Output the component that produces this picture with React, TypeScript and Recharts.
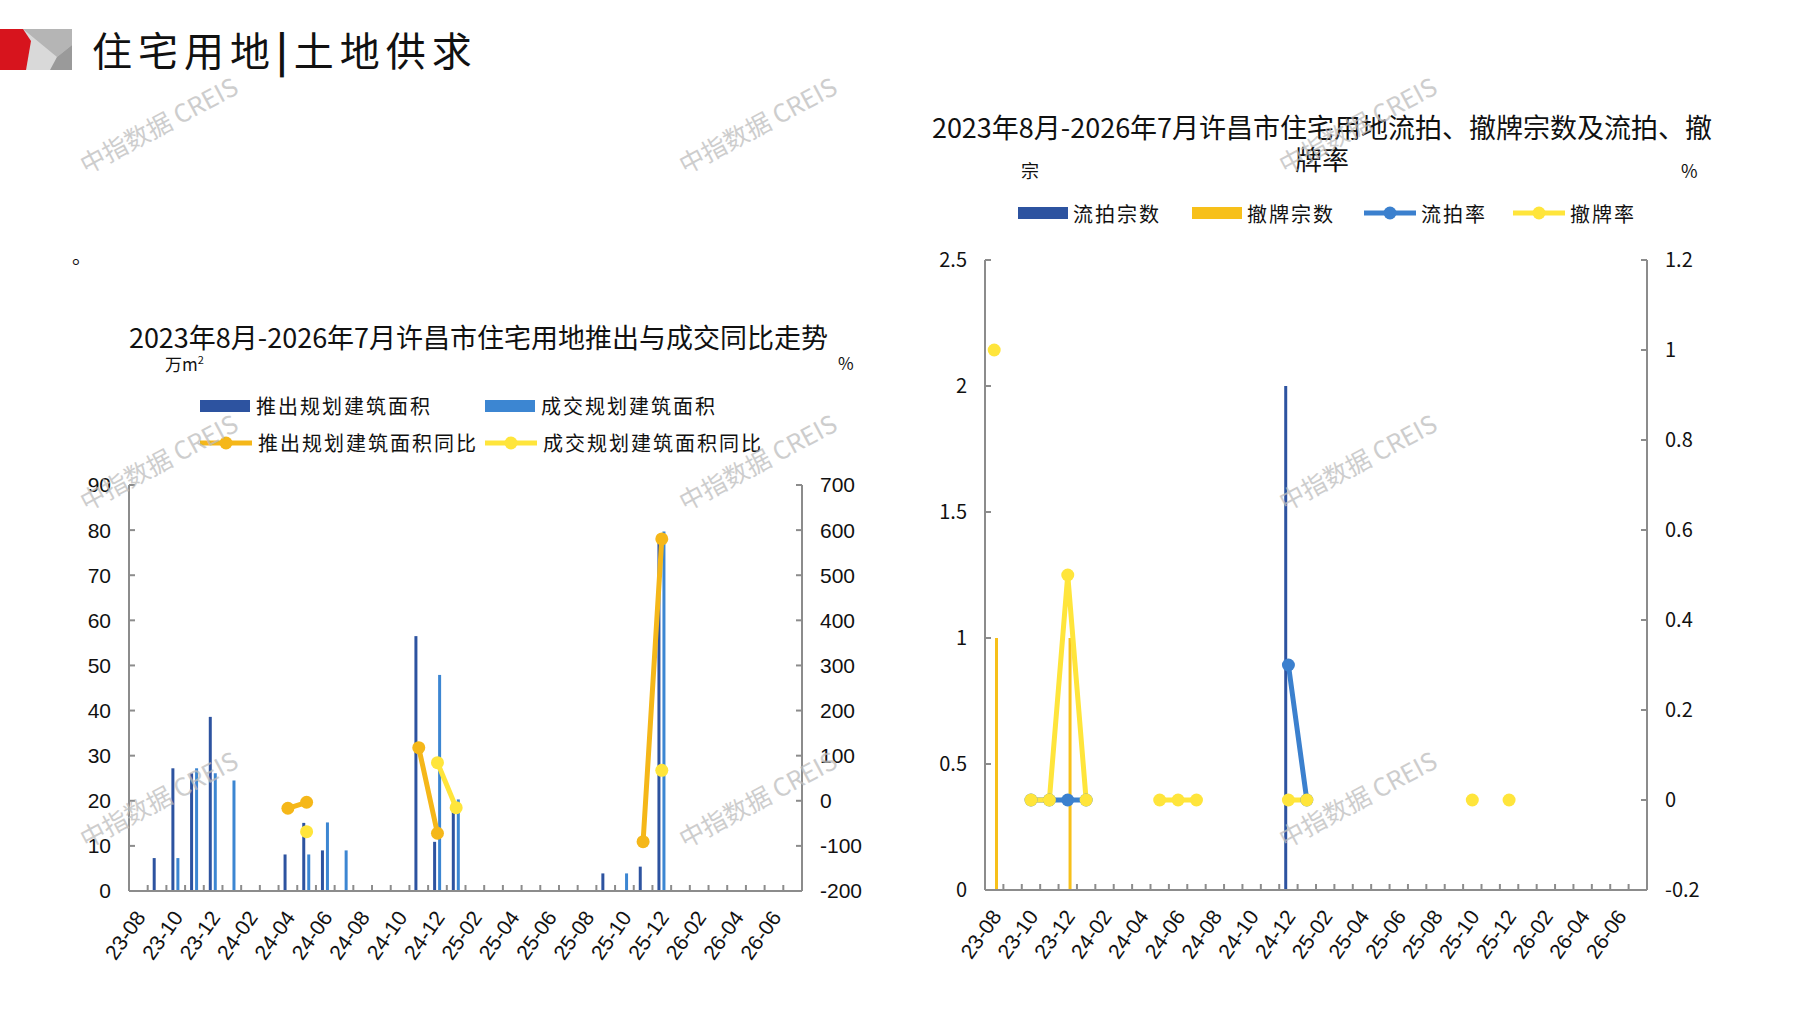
import React from "react";
import { ComposedChart, Bar, Line, XAxis, YAxis, Legend } from "recharts";

// 2023-08 .. 2026-07
const months = [
  "23-08", "23-09", "23-10", "23-11", "23-12", "24-01", "24-02", "24-03", "24-04",
  "24-05", "24-06", "24-07", "24-08", "24-09", "24-10", "24-11", "24-12", "25-01",
  "25-02", "25-03", "25-04", "25-05", "25-06", "25-07", "25-08", "25-09", "25-10",
  "25-11", "25-12", "26-01", "26-02", "26-03", "26-04", "26-05", "26-06", "26-07",
];

// left chart: 万m² and %
const supplyArea = [
  null, 7.3, 27.2, 26.1, 38.6, null, null, null, 8.1, 15.1, 9.0, null, null, null, null, 56.5, 10.9, 19.5,
  null, null, null, null, null, null, null, 3.9, null, 5.4, 78, null, null, null, null, null, null, null,
];
const dealArea = [
  null, null, 7.3, 27.2, 26.1, 24.5, null, null, null, 8.1, 15.2, 9.0, null, null, null, null, 47.9, 20.3,
  null, null, null, null, null, null, null, null, 3.9, null, 79.7, null, null, null, null, null, null, null,
];
const supplyYoY = [
  null, null, null, null, null, null, null, null, -16.6, -3.3, null, null, null, null, null, 117.7, -72, null,
  null, null, null, null, null, null, null, null, null, -90.7, 580.5, null, null, null, null, null, null, null,
];
const dealYoY = [
  null, null, null, null, null, null, null, null, null, -68.5, null, null, null, null, null, null, 84.5, -15.3,
  null, null, null, null, null, null, null, null, null, null, 67.6, null, null, null, null, null, null, null,
];

// right chart: 宗 and %
const failCount = [
  null, null, null, null, null, null, null, null, null, null, null, null, null, null, null, null, 2, null,
  null, null, null, null, null, null, null, null, null, null, null, null, null, null, null, null, null, null,
];
const withdrawCount = [
  1, null, null, null, 1, null, null, null, null, null, null, null, null, null, null, null, null, null,
  null, null, null, null, null, null, null, null, null, null, null, null, null, null, null, null, null, null,
];
const failRate = [
  null, null, 0, 0, 0, 0, null, null, null, null, null, null, null, null, null, null, 0.3, 0,
  null, null, null, null, null, null, null, null, null, null, null, null, null, null, null, null, null, null,
];
const withdrawRate = [
  1, null, 0, 0, 0.5, 0, null, null, null, 0, 0, 0, null, null, null, null, 0, 0,
  null, null, null, null, null, null, null, null, 0, null, 0, null, null, null, null, null, null, null,
];

const leftAreaTicks = [0, 10, 20, 30, 40, 50, 60, 70, 80, 90];
const leftRateTicks = [-200, -100, 0, 100, 200, 300, 400, 500, 600, 700];
const rightCountTicks = [0, 0.5, 1, 1.5, 2, 2.5];
const rightRateTicks = [-0.2, 0, 0.2, 0.4, 0.6, 0.8, 1, 1.2];

const leftNames = ["推出规划建筑面积", "成交规划建筑面积", "推出规划建筑面积同比", "成交规划建筑面积同比"];
const rightNames = ["流拍宗数", "撤牌宗数", "流拍率", "撤牌率"];

const leftData = months.map((m, i) => ({
  month: m,
  supply: supplyArea[i],
  deal: dealArea[i],
  supplyYoY: supplyYoY[i],
  dealYoY: dealYoY[i],
}));

const rightData = months.map((m, i) => ({
  month: m,
  failCount: failCount[i],
  withdrawCount: withdrawCount[i],
  failRate: failRate[i],
  withdrawRate: withdrawRate[i],
}));

const CJK = "'Noto Sans CJK SC', 'Noto Sans', sans-serif";
const LATIN = "'Liberation Sans', Arial, sans-serif";
const AXIS = "#8c8c8c";
const MONTH_MARGIN = 16;

const C = {
  darkBlue: "#2D53A0",
  lightBlue: "#3C86D2",
  orange: "#F5B719",
  yellow: "#FFE53B",
  gold: "#F7C01A",
  rateBlue: "#3B80CE",
};

// month labels every other band, tick marks on the band edges pointing up into the plot
function MonthTick({ x, y, payload, index, width }: any) {
  const half = payload && payload.offset ? payload.offset : width / months.length / 2;
  const axisY = y - 6 - MONTH_MARGIN;
  const lx = x + 2;
  return (
    <g>
      <line x1={x - half} x2={x - half} y1={axisY} y2={axisY - 6} stroke={AXIS} strokeWidth={2} />
      {index === months.length - 1 && (
        <line x1={x + half} x2={x + half} y1={axisY} y2={axisY - 6} stroke={AXIS} strokeWidth={2} />
      )}
      {index % 2 === 0 && (
        <text
          x={lx}
          y={y}
          transform={`rotate(-55 ${lx} ${y})`}
          textAnchor="end"
          dominantBaseline="central"
          fontSize={21}
          fontFamily={LATIN}
          fill="#111"
        >
          {payload.value}
        </text>
      )}
    </g>
  );
}

function Swatch({ type, color }: { type: string; color: string }) {
  if (type === "line") {
    return (
      <svg width={52} height={16} style={{ flex: "none" }}>
        <line x1={0} y1={8} x2={52} y2={8} stroke={color} strokeWidth={5} />
        <circle cx={26} cy={8} r={6.5} fill={color} />
      </svg>
    );
  }
  return (
    <svg width={50} height={16} style={{ flex: "none" }}>
      <rect x={0} y={2} width={50} height={12} fill={color} />
    </svg>
  );
}

function ordered(payload: any[] | undefined, names: string[]) {
  return [...(payload || [])].sort((a, b) => names.indexOf(a.value) - names.indexOf(b.value));
}

function LeftLegend({ payload }: any) {
  return (
    <div style={{ display: "grid", gridTemplateColumns: "285px 285px", gridAutoRows: "37px" }}>
      {ordered(payload, leftNames).map((e) => (
        <div key={e.value} style={{ display: "flex", alignItems: "center", gap: 6 }}>
          <Swatch type={e.type} color={e.color} />
          <span style={{ fontFamily: CJK, fontSize: 20, letterSpacing: 2, color: "#111", whiteSpace: "nowrap" }}>
            {e.value}
          </span>
        </div>
      ))}
    </div>
  );
}

const rightLegendWidths = [174, 172, 149, 140];

function RightLegend({ payload }: any) {
  return (
    <div style={{ display: "flex", height: 36, alignItems: "center" }}>
      {ordered(payload, rightNames).map((e, i) => (
        <div key={e.value} style={{ display: "flex", alignItems: "center", gap: 5, width: rightLegendWidths[i] }}>
          <Swatch type={e.type} color={e.color} />
          <span style={{ fontFamily: CJK, fontSize: 20, letterSpacing: 2, color: "#111", whiteSpace: "nowrap" }}>
            {e.value}
          </span>
        </div>
      ))}
    </div>
  );
}

const yTick = { fill: "#111", fontSize: 21, fontFamily: LATIN };
const yTickR = { fill: "#111", fontSize: 20, fontFamily: CJK };
const axisLine = { stroke: AXIS, strokeWidth: 2 };

const watermarks = [
  [158, 124], [757, 124], [1357, 124],
  [158, 461], [757, 461], [1357, 461],
  [158, 798], [757, 798], [1357, 798],
];

function LeftChart() {
  return (
    <div style={{ position: "absolute", left: 40, top: 300 }}>
      <ComposedChart
        width={860}
        height={700}
        data={leftData}
        margin={{ top: 185, right: 28, bottom: 29, left: 29 }}
        barGap={2}
      >
        <XAxis
          dataKey="month"
          interval={0}
          height={80}
          axisLine={axisLine}
          tickLine={false}
          tickMargin={MONTH_MARGIN}
          tick={<MonthTick />}
        />
        <YAxis
          yAxisId="l"
          domain={[0, 90]}
          ticks={leftAreaTicks}
          width={60}
          tickSize={-6}
          tickMargin={24}
          axisLine={axisLine}
          tickLine={axisLine}
          tick={yTick}
        />
        <YAxis
          yAxisId="r"
          orientation="right"
          domain={[-200, 700]}
          ticks={leftRateTicks}
          width={70}
          tickSize={-6}
          tickMargin={24}
          axisLine={axisLine}
          tickLine={axisLine}
          tick={yTick}
        />
        <Legend
          layout="horizontal"
          align="center"
          verticalAlign="middle"
          wrapperStyle={{ left: 160, top: 87, width: 620 }}
          content={<LeftLegend />}
        />
        <Bar yAxisId="l" dataKey="supply" name={leftNames[0]} fill={C.darkBlue} barSize={3} isAnimationActive={false} />
        <Bar yAxisId="l" dataKey="deal" name={leftNames[1]} fill={C.lightBlue} barSize={3} isAnimationActive={false} />
        <Line
          yAxisId="r"
          dataKey="supplyYoY"
          name={leftNames[2]}
          type="linear"
          stroke={C.orange}
          strokeWidth={5}
          dot={{ r: 6.5, fill: C.orange, stroke: C.orange, strokeWidth: 0 }}
          activeDot={false}
          isAnimationActive={false}
        />
        <Line
          yAxisId="r"
          dataKey="dealYoY"
          name={leftNames[3]}
          type="linear"
          stroke={C.yellow}
          strokeWidth={5}
          dot={{ r: 6.5, fill: C.yellow, stroke: C.yellow, strokeWidth: 0 }}
          activeDot={false}
          isAnimationActive={false}
        />
      </ComposedChart>
    </div>
  );
}

function RightChart() {
  return (
    <div style={{ position: "absolute", left: 900, top: 150 }}>
      <ComposedChart
        width={880}
        height={850}
        data={rightData}
        margin={{ top: 110, right: 53, bottom: 30, left: 25 }}
        barGap={2}
      >
        <XAxis
          dataKey="month"
          interval={0}
          height={80}
          axisLine={axisLine}
          tickLine={false}
          tickMargin={MONTH_MARGIN}
          tick={<MonthTick />}
        />
        <YAxis
          yAxisId="l"
          domain={[0, 2.5]}
          ticks={rightCountTicks}
          width={60}
          tickSize={-6}
          tickMargin={24}
          axisLine={axisLine}
          tickLine={axisLine}
          tick={yTickR}
        />
        <YAxis
          yAxisId="r"
          orientation="right"
          domain={[-0.2, 1.2]}
          ticks={rightRateTicks}
          width={80}
          tickSize={-6}
          tickMargin={24}
          axisLine={axisLine}
          tickLine={axisLine}
          tick={yTickR}
        />
        <Legend
          layout="horizontal"
          align="center"
          verticalAlign="middle"
          wrapperStyle={{ left: 118, top: 45, width: 660 }}
          content={<RightLegend />}
        />
        <Bar yAxisId="l" dataKey="failCount" name={rightNames[0]} fill={C.darkBlue} barSize={3} isAnimationActive={false} />
        <Bar yAxisId="l" dataKey="withdrawCount" name={rightNames[1]} fill={C.gold} barSize={3} isAnimationActive={false} />
        <Line
          yAxisId="r"
          dataKey="failRate"
          name={rightNames[2]}
          type="linear"
          stroke={C.rateBlue}
          strokeWidth={5}
          dot={{ r: 6.5, fill: C.rateBlue, stroke: C.rateBlue, strokeWidth: 0 }}
          activeDot={false}
          isAnimationActive={false}
        />
        <Line
          yAxisId="r"
          dataKey="withdrawRate"
          name={rightNames[3]}
          type="linear"
          stroke={C.yellow}
          strokeWidth={5}
          dot={{ r: 6.5, fill: C.yellow, stroke: C.yellow, strokeWidth: 0 }}
          activeDot={false}
          isAnimationActive={false}
        />
      </ComposedChart>
    </div>
  );
}

export default function App() {
  const text = (style: React.CSSProperties) => ({
    position: "absolute" as const,
    fontFamily: CJK,
    color: "#111",
    whiteSpace: "nowrap" as const,
    lineHeight: 1,
    ...style,
  });

  return (
    <div style={{ position: "absolute", left: 0, top: 0, width: 1797, height: 1010, background: "#fff", overflow: "hidden" }}>
      {/* header mark */}
      <svg style={{ position: "absolute", left: 0, top: 29 }} width={72} height={41}>
        <rect x={23} y={0} width={49} height={41} fill="#d9d9d9" />
        <polygon points="23,0 72,0 72,16 57,28" fill="#b5b5b5" />
        <polygon points="72,16 72,41 50,41 57,28" fill="#9a9a9a" />
        <polygon points="0,0 23,0 31,12 26,41 0,41" fill="#d7141d" />
      </svg>
      <div style={text({ left: 92, top: 29, fontSize: 40, letterSpacing: 6 })}>
        住宅用地<span style={{ fontWeight: 700 }}>|</span>土地供求
      </div>
      <div style={text({ left: 72, top: 246, fontSize: 20 })}>。</div>

      {/* left chart labels */}
      <div style={text({ left: 127, top: 323, width: 703, textAlign: "center", fontSize: 27 })}>
        2023年8月-2026年7月许昌市住宅用地推出与成交同比走势
      </div>
      <div style={text({ left: 165, top: 354, fontSize: 17 })}>
        万m<sup style={{ fontSize: 11 }}>2</sup>
      </div>
      <div style={text({ left: 838, top: 354, fontSize: 17 })}>%</div>
      <LeftChart />

      {/* right chart labels */}
      <div style={text({ left: 922, top: 111, width: 800, textAlign: "center", fontSize: 27, lineHeight: "32px" })}>
        2023年8月-2026年7月许昌市住宅用地流拍、撤牌宗数及流拍、撤
        <br />
        牌率
      </div>
      <div style={text({ left: 1021, top: 161, fontSize: 18 })}>宗</div>
      <div style={text({ left: 1681, top: 161, fontSize: 18 })}>%</div>
      <RightChart />

      {/* watermarks */}
      <svg style={{ position: "absolute", left: 0, top: 0, pointerEvents: "none" }} width={1797} height={1010}>
        {watermarks.map(([x, y]) => (
          <text
            key={`${x}-${y}`}
            x={x}
            y={y}
            transform={`rotate(-28 ${x} ${y})`}
            textAnchor="middle"
            dominantBaseline="central"
            fontSize={25}
            fontFamily={CJK}
            fill="#bdbdbd"
            opacity={0.75}
          >
            中指数据 CREIS
          </text>
        ))}
      </svg>
    </div>
  );
}
